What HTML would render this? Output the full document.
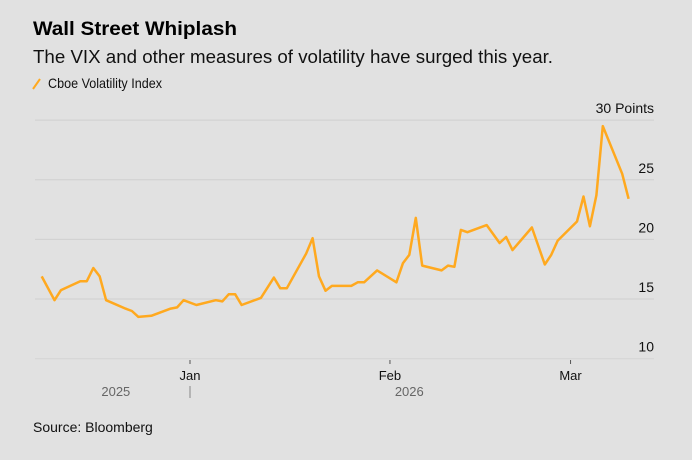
<!DOCTYPE html>
<html><head><meta charset="utf-8"><style>
html,body{margin:0;padding:0;background:#e1e1e1;}
svg{display:block;font-family:"Liberation Sans",Arial,sans-serif;}
</style></head><body>
<svg id="chart" width="692" height="460" viewBox="0 0 692 460">
<rect width="692" height="460" fill="#e1e1e1"/>
<text x="33" y="35" font-size="19" font-weight="bold" fill="#000" textLength="204" lengthAdjust="spacingAndGlyphs">Wall Street Whiplash</text>
<text x="33" y="63" font-size="18" fill="#111" textLength="520" lengthAdjust="spacingAndGlyphs">The VIX and other measures of volatility have surged this year.</text>
<line x1="33" y1="89" x2="40" y2="79" stroke="#ffa91f" stroke-width="2"/>
<text x="48" y="88" font-size="14" fill="#111" textLength="114" lengthAdjust="spacingAndGlyphs">Cboe Volatility Index</text>
<g id="grid"></g>
<g id="xaxis"></g>
<polyline id="line" fill="none" stroke="#ffa91f" stroke-width="2.5" stroke-linejoin="round"/>
<text x="33" y="432" font-size="14" fill="#111">Source: Bloomberg</text>
</svg>
<script>
// day offsets relative to Jan 1, 2026
const days = [-23,-21,-20,-17,-16,-15,-14,-13,-10,-9,-8,-6,-3,-2,-1,1,4,5,6,7,8,11,13,14,15,18,19,20,21,22,25,26,27,29,32,33,34,35,36,39,40,41,42,43,46,48,49,50,53,55,56,57,60,61,62,63,64,67,68];
const values = [16.9,14.9,15.75,16.5,16.5,17.6,16.9,14.9,14.2,14.0,13.5,13.6,14.2,14.3,14.9,14.5,14.9,14.8,15.4,15.4,14.5,15.1,16.8,15.9,15.9,18.8,20.1,16.9,15.7,16.1,16.1,16.4,16.4,17.4,16.4,18.0,18.7,21.8,17.8,17.4,17.8,17.7,20.8,20.6,21.2,19.7,20.2,19.1,21.0,17.9,18.7,19.9,21.5,23.6,21.1,23.7,29.5,25.5,23.4];
const yTicks = [10,15,20,25,30];
const yTickLabels = ["10","15","20","25","30 Points"];
const xTickDays = [0,31,59];
const xTickLabels = ["Jan","Feb","Mar"];
const yearLabels = ["2025","2026"];
const yearDays = [-11.5,34];

const NS="http://www.w3.org/2000/svg";
const x = d => 190 + d*6.45;
const y = v => 358.7 - (v-10)*11.93;
const grid=document.getElementById('grid'), xa=document.getElementById('xaxis');
function mk(tag,attrs,parent){const e=document.createElementNS(NS,tag);for(const k in attrs)e.setAttribute(k,attrs[k]);parent.appendChild(e);return e;}
yTicks.forEach((t,i)=>{
  const l=mk('line',{x1:35,x2:654,y1:y(t),y2:y(t),stroke:i===0?'#d4d4d4':'#cfcfcf','stroke-width':1},grid);
  
  
  const tx=mk('text',{x:654,y:y(t)-7,'text-anchor':'end','font-size':14,fill:'#111'},grid);
  tx.textContent=yTickLabels[i];
  
  
});
xTickDays.forEach((d,i)=>{
  const l=mk('line',{x1:x(d),x2:x(d),y1:360,y2:364,stroke:'#555','stroke-width':1},xa);
  
  
  const tx=mk('text',{x:x(d),y:380,'text-anchor':'middle','font-size':13,fill:'#111'},xa);
  tx.textContent=xTickLabels[i];
  
  
});
yearDays.forEach((d,i)=>{
  const tx=mk('text',{x:x(d),y:396,'text-anchor':'middle','font-size':13,fill:'#666'},xa);
  tx.textContent=yearLabels[i];
  
  
});
const dv=mk('line',{x1:x(0),x2:x(0),y1:386,y2:398,stroke:'#888','stroke-width':1},xa);


document.getElementById('line').setAttribute('points',days.map((d,i)=>x(d).toFixed(1)+','+y(values[i]).toFixed(1)).join(' '));
</script>
</body></html>
